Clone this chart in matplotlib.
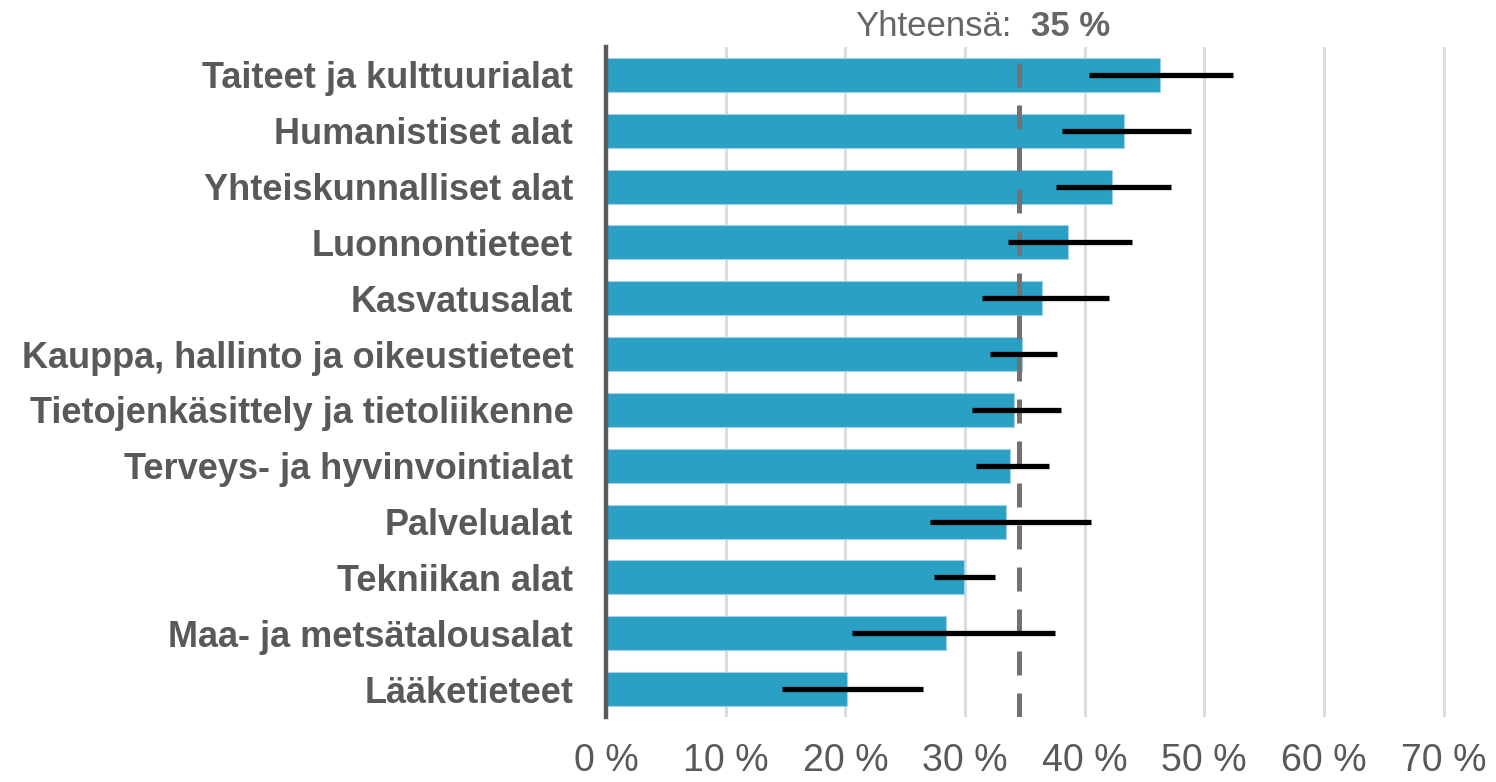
import matplotlib
matplotlib.use("Agg")
import matplotlib.pyplot as plt
from matplotlib.ticker import FuncFormatter

categories = ["Taiteet ja kulttuurialat", "Humanistiset alat", "Yhteiskunnalliset alat",
              "Luonnontieteet", "Kasvatusalat", "Kauppa, hallinto ja oikeustieteet",
              "Tietojenkäsittely ja tietoliikenne", "Terveys- ja hyvinvointialat",
              "Palvelualat", "Tekniikan alat", "Maa- ja metsätalousalat", "Lääketieteet"]
values = [46.3, 43.3, 42.3, 38.6, 36.4, 34.8, 34.1, 33.8, 33.4, 29.9, 28.4, 20.1]
ci_low = [40.4, 38.1, 37.6, 33.6, 31.4, 32.1, 30.6, 30.9, 27.1, 27.4, 20.6, 14.7]
ci_high = [52.4, 48.9, 47.2, 44.0, 42.0, 37.7, 38.0, 37.0, 40.5, 32.5, 37.5, 26.5]
total = 34.5
total_label = "35 %"
xticks = [0, 10, 20, 30, 40, 50, 60, 70]

plt.rcParams['font.family'] = ['Liberation Sans', 'DejaVu Sans']

fig = plt.figure(figsize=(14.96, 7.82), dpi=100)
ax = fig.add_axes([606/1496, 1-717/782, (1446-606)/1496, (717-47)/782])

n = len(categories)
ypos = list(range(n))
ax.barh(ypos, values, height=0.61, color="#29A0C4", edgecolor="#9FD3E4", linewidth=0.8, zorder=2)

xerr = [[v - l for v, l in zip(values, ci_low)], [h - v for v, h in zip(values, ci_high)]]
ax.errorbar(values, ypos, xerr=xerr, fmt='none', ecolor='black', elinewidth=3.8, capsize=0, zorder=4)

ax.axvline(total, color="#767171", lw=3.6, dashes=(4.8, 3.6), zorder=3, ymax=0.995)

ax.set_ylim(n - 0.5, -0.5)
ax.set_xlim(0, 70.2)
ax.set_xticks(xticks)
ax.xaxis.set_major_formatter(FuncFormatter(lambda v, p: f"{int(v)} %"))
ax.set_yticks(ypos)
ax.set_yticklabels(categories, fontsize=26, fontweight='bold', color="#595959")
ax.tick_params(axis='y', length=0, pad=23.5)
ax.tick_params(axis='x', length=0, pad=19, labelsize=27, labelcolor="#595959")
ax.grid(axis='x', color="#D9DCE0", lw=2.2, zorder=0)
ax.set_axisbelow(True)
for s in ['top', 'right', 'bottom']:
    ax.spines[s].set_visible(False)
ax.spines['left'].set_color("#595959")
ax.spines['left'].set_linewidth(3.2)
ax.spines['left'].set_zorder(5)

fig.text(1012/1496, 1-36/782, "Yhteensä:", ha='right', va='baseline', fontsize=25, color="#666666")
fig.text(1031/1496, 1-36/782, total_label, ha='left', va='baseline', fontsize=25, fontweight='bold', color="#666666")

fig.savefig("out.png", dpi=100)
